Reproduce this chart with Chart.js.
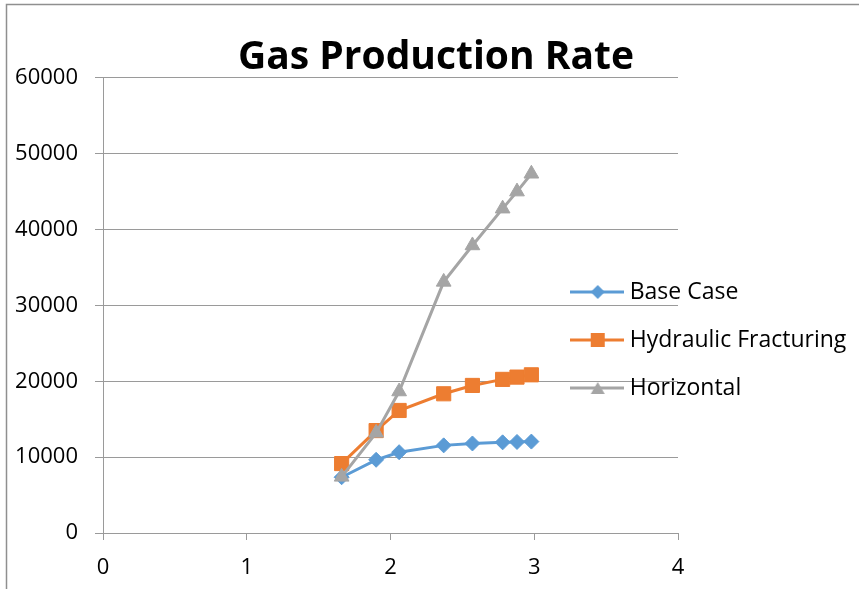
<!DOCTYPE html>
<html>
<head>
<meta charset="utf-8">
<script src="https://cdn.jsdelivr.net/npm/chart.js@4.4.1/dist/chart.umd.min.js"></script>
<style>
html,body{margin:0;padding:0;background:#ffffff;}
canvas{display:block;}
</style>
</head>
<body>
<canvas id="c" width="859" height="589"></canvas>
<script>
// ---- data ----
const titleText = 'Gas Production Rate';
const seriesNames = ['Base Case', 'Hydraulic Fracturing', 'Horizontal'];
const xValues = [1.66, 1.90, 2.06, 2.37, 2.57, 2.78, 2.88, 2.98];
const baseCase = [7350, 9650, 10650, 11550, 11800, 11950, 12000, 12050];
const hydraulicFracturing = [9150, 13500, 16150, 18350, 19450, 20250, 20550, 20850];
const horizontal = [7400, 13200, 18650, 33100, 37900, 42750, 45000, 47350];
const xTicks = [0, 1, 2, 3, 4];
const yTicks = [0, 10000, 20000, 30000, 40000, 50000, 60000];

// ---- styling ----
const FONT = "'Open Sans', 'Liberation Sans', sans-serif";
const colors = ['#5B9BD5', '#ED7D31', '#A5A5A5'];
const styles = ['rectRot', 'rect', 'triangle'];
const radii = [7.5, 10, 8.5];
const gridColor = '#9a9a9a';

function legendSample(color, style) {
  const c = document.createElement('canvas');
  c.width = 54; c.height = 20;
  const g = c.getContext('2d');
  g.strokeStyle = color; g.lineWidth = 3;
  g.beginPath(); g.moveTo(0, 10); g.lineTo(54, 10); g.stroke();
  g.fillStyle = color; g.beginPath();
  const cx = 28, cy = 10;
  if (style === 'rectRot') {
    g.moveTo(cx - 7, cy); g.lineTo(cx, cy - 7); g.lineTo(cx + 7, cy); g.lineTo(cx, cy + 7);
  } else if (style === 'rect') {
    g.rect(cx - 7, cy - 7, 14, 14);
  } else {
    g.moveTo(cx, cy - 6); g.lineTo(cx + 7, cy + 6); g.lineTo(cx - 7, cy + 6);
  }
  g.closePath(); g.fill();
  return c;
}

function makeSeries(i, values, order) {
  return {
    label: seriesNames[i],
    data: xValues.map((x, k) => ({ x: x, y: values[k] })),
    borderColor: colors[i],
    backgroundColor: colors[i],
    pointBackgroundColor: colors[i],
    pointBorderColor: colors[i],
    pointBorderWidth: 1,
    pointStyle: styles[i],
    pointRadius: radii[i],
    pointHoverRadius: radii[i],
    borderWidth: 3,
    tension: 0,
    fill: false,
    order: order
  };
}

const frame = {
  id: 'frame',
  beforeDraw(chart) {
    const ctx = chart.ctx;
    ctx.save();
    ctx.strokeStyle = '#8f8f8f';
    ctx.lineWidth = 1.5;
    ctx.strokeRect(6.5, 4.5, 1000, 1000);
    ctx.restore();
  }
};

const legendPlace = {
  id: 'legendPlace',
  afterLayout(chart) {
    const l = chart.legend;
    if (!l) return;
    const L = 550.2, T = 255.5;
    l.left = L; l.right = L + 308; l.top = T; l.bottom = T + 300;
    l.width = 308; l.height = 300;
  }
};

new Chart(document.getElementById('c'), {
  type: 'line',
  data: {
    datasets: [
      makeSeries(0, baseCase, 2),
      makeSeries(1, hydraulicFracturing, 1),
      makeSeries(2, horizontal, 0)
    ]
  },
  options: {
    responsive: false,
    animation: false,
    devicePixelRatio: 1,
    layout: { padding: { left: 13, right: 0, top: 0, bottom: 0 } },
    scales: {
      x: {
        type: 'linear', min: 0, max: 4,
        afterBuildTicks: s => { s.ticks = xTicks.map(v => ({ value: v })); },
        afterFit: s => { s.height = 56; },
        ticks: { color: '#000', font: { family: FONT, size: 22 }, padding: 15, maxRotation: 0, callback: v => String(v) },
        grid: { drawOnChartArea: false, drawTicks: true, tickLength: 7, color: gridColor, lineWidth: 1 },
        border: { display: true, color: gridColor, width: 1 }
      },
      y: {
        type: 'linear', min: 0, max: 60000,
        afterBuildTicks: s => { s.ticks = yTicks.map(v => ({ value: v })); },
        afterFit: s => { s.width = 90; },
        ticks: { color: '#000', font: { family: FONT, size: 22 }, padding: 17, callback: v => String(v) },
        grid: { drawOnChartArea: true, drawTicks: true, tickLength: 8, color: gridColor, lineWidth: 1 },
        border: { display: true, color: gridColor, width: 1 }
      }
    },
    plugins: {
      title: {
        display: true, text: titleText, color: '#000',
        font: { family: FONT, size: 39, weight: 'bold', lineHeight: 1.2 },
        padding: { top: 34, bottom: -3 }
      },
      legend: {
        display: true, position: 'right', align: 'start', maxWidth: 181,
        labels: {
          color: '#000',
          font: { family: FONT, size: 23 },
          usePointStyle: true,
          pointStyleWidth: 43,
          padding: 25,
          generateLabels: chart => {
            const items = Chart.defaults.plugins.legend.labels.generateLabels(chart);
            items.sort((a, b) => a.datasetIndex - b.datasetIndex);
            items.forEach(it => { it.pointStyle = legendSample(colors[it.datasetIndex], styles[it.datasetIndex]); });
            return items;
          }
        }
      },
      tooltip: { enabled: false }
    }
  },
  plugins: [frame, legendPlace]
});
</script>
</body>
</html>
